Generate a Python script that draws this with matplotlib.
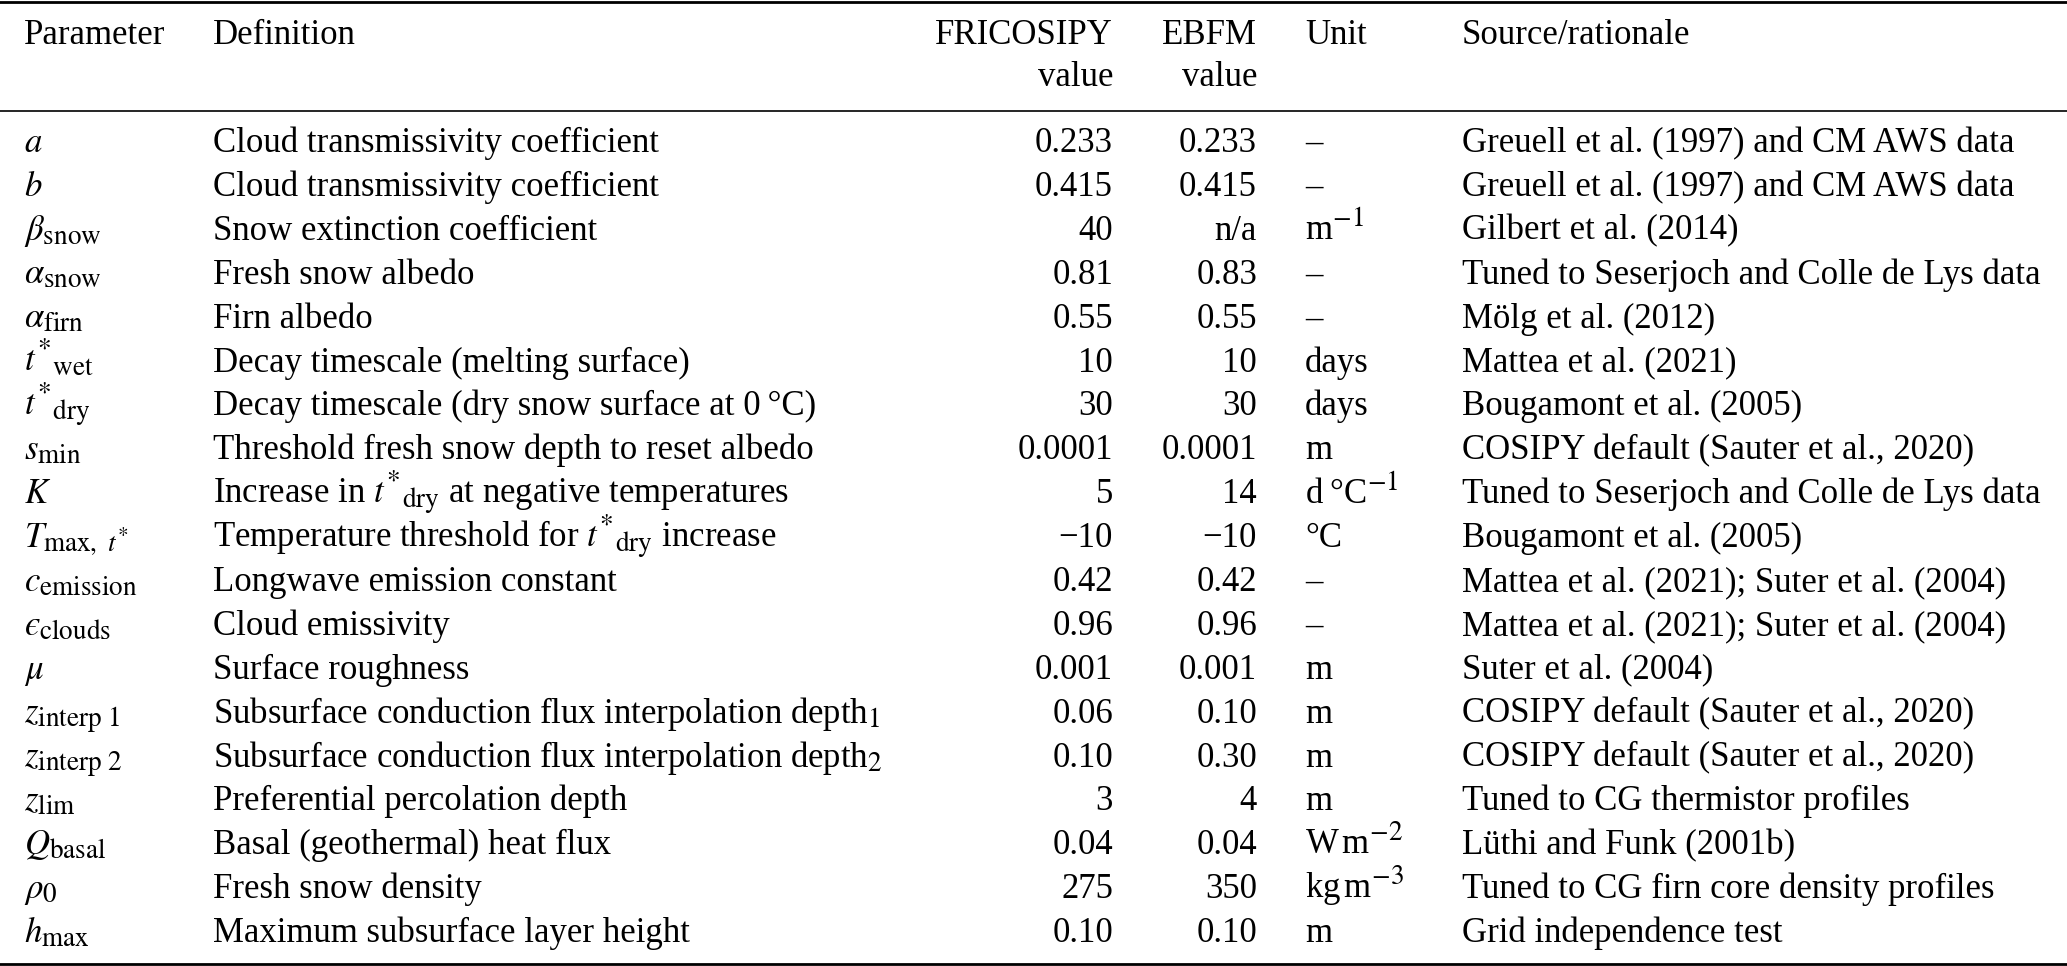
import matplotlib
matplotlib.use('Agg')
import matplotlib.pyplot as plt
from matplotlib.lines import Line2D
import matplotlib._mathtext as mathtext_internal

plt.rcParams['font.family'] = ['Liberation Serif', 'DejaVu Serif']
plt.rcParams['mathtext.fontset'] = 'stix'
# the reference uses slightly larger sub/superscripts than mathtext's default
mathtext_internal.SHRINK_FACTOR = 0.78

# table content
header_1 = ['Parameter', 'Definition', 'FRICOSIPY', 'EBFM', 'Unit', 'Source/rationale']
header_2 = ['', '', 'value', 'value', '', '']

params = [r'$a$', r'$b$', r'$\beta_{\mathrm{snow}}$', r'$\alpha_{\mathrm{snow}}$',
          r'$\alpha_{\mathrm{firn}}$', r'${t^{*}}_{\mathrm{wet}}$', r'${t^{*}}_{\mathrm{dry}}$',
          r'$s_{\mathrm{min}}$', r'$K$', r'$T_{\mathrm{max},\ t^{*}}$',
          r'$c_{\mathrm{emission}}$', '$\u03f5_{\\mathrm{clouds}}$', r'$\mu$',
          r'$z_{\mathrm{interp\ 1}}$', r'$z_{\mathrm{interp\ 2}}$', r'$z_{\mathrm{lim}}$',
          r'$Q_{\mathrm{basal}}$', r'$\rho_{0}$', r'$h_{\mathrm{max}}$']

definitions = ['Cloud transmissivity coefficient',
               'Cloud transmissivity coefficient',
               'Snow extinction coefficient',
               'Fresh snow albedo',
               'Firn albedo',
               'Decay timescale (melting surface)',
               'Decay timescale (dry snow surface at 0\u2009\u00b0C)',
               'Threshold fresh snow depth to reset albedo',
               r'Increase in ${t^{*}}_{\mathrm{dry}}$ at negative temperatures',
               r'Temperature threshold for ${t^{*}}_{\mathrm{dry}}$ increase',
               'Longwave emission constant',
               'Cloud emissivity',
               'Surface roughness',
               r'Subsurface conduction flux interpolation depth$_{1}$',
               r'Subsurface conduction flux interpolation depth$_{2}$',
               'Preferential percolation depth',
               'Basal (geothermal) heat flux',
               'Fresh snow density',
               'Maximum subsurface layer height']

fricosipy_vals = ['0.233', '0.415', '40', '0.81', '0.55', '10', '30', '0.0001', '5',
                  '\u221210', '0.42', '0.96', '0.001', '0.06', '0.10', '3', '0.04', '275', '0.10']
ebfm_vals = ['0.233', '0.415', 'n/a', '0.83', '0.55', '10', '30', '0.0001', '14',
             '\u221210', '0.42', '0.96', '0.001', '0.10', '0.30', '4', '0.04', '350', '0.10']

units = ['\u2013', '\u2013', r'm$^{-1}$', '\u2013', '\u2013', 'days', 'days', 'm',
         'd\u2009\u00b0C$^{-1}$', '\u00b0C', '\u2013', '\u2013', 'm', 'm', 'm', 'm',
         r'W$\,$m$^{-2}$', r'kg$\,$m$^{-3}$', 'm']

sources = ['Greuell et al. (1997) and CM AWS data',
           'Greuell et al. (1997) and CM AWS data',
           'Gilbert et al. (2014)',
           'Tuned to Seserjoch and Colle de Lys data',
           'M\u00f6lg et al. (2012)',
           'Mattea et al. (2021)',
           'Bougamont et al. (2005)',
           'COSIPY default (Sauter et al., 2020)',
           'Tuned to Seserjoch and Colle de Lys data',
           'Bougamont et al. (2005)',
           'Mattea et al. (2021); Suter et al. (2004)',
           'Mattea et al. (2021); Suter et al. (2004)',
           'Suter et al. (2004)',
           'COSIPY default (Sauter et al., 2020)',
           'COSIPY default (Sauter et al., 2020)',
           'Tuned to CG thermistor profiles',
           'L\u00fcthi and Funk (2001b)',
           'Tuned to CG firn core density profiles',
           'Grid independence test']

W, H = 2067, 966
fig = plt.figure(figsize=(W / 100, H / 100), dpi=100)

FS = 25
# column anchors in pixels (x, alignment)
cols = [(24, 'left'), (213, 'left'), (1113, 'right'), (1257, 'right'), (1305, 'left'), (1462, 'left')]


def put(x, y, s, ha):
    fig.text(x / W, 1 - y / H, s, ha=ha, va='baseline', fontsize=FS)


def rule(y, lw):
    fig.add_artist(Line2D([0, 1], [1 - y / H, 1 - y / H], transform=fig.transFigure,
                          color='black', lw=lw))


# header
for (x, ha), s1, s2 in zip(cols, header_1, header_2):
    put(x, 44, s1, ha)
    if s2:
        put(x, 86, s2, ha)

row0 = 152
step = 43.9
columns = [params, definitions, fricosipy_vals, ebfm_vals, units, sources]
for i in range(len(params)):
    y = row0 + i * step
    for (x, ha), col in zip(cols, columns):
        put(x, y, col[i], ha)

rule(1.5, 2.0)
rule(111, 1.2)
rule(964, 2.0)

fig.savefig('out.png', dpi=100)
